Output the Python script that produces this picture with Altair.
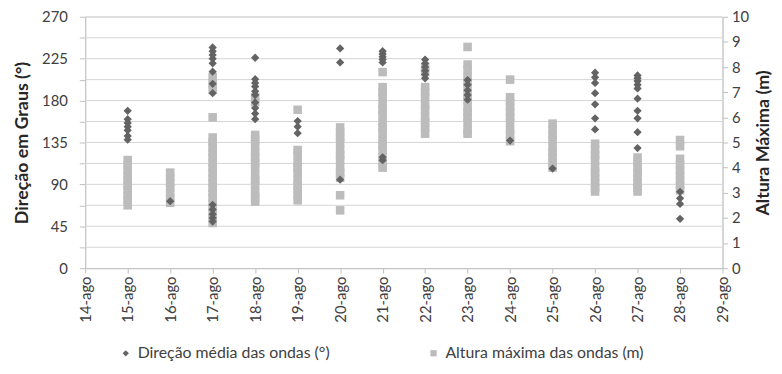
import altair as alt
import pandas as pd

dates = ["14-ago", "15-ago", "16-ago", "17-ago", "18-ago", "19-ago", "20-ago", "21-ago",
         "22-ago", "23-ago", "24-ago", "25-ago", "26-ago", "27-ago", "28-ago", "29-ago"]

S_DIR = "Direção média das ondas (°)"
S_ALT = "Altura máxima das ondas (m)"

# Mean wave direction (degrees)
direcao = {
    "15-ago": [169, 160, 156, 152, 148, 142, 138],
    "16-ago": [72],
    "17-ago": [237, 233, 229, 225, 220, 211, 198, 188, 68, 63, 58, 54, 50],
    "18-ago": [226, 203, 199, 195, 190, 186, 178, 172, 166, 160],
    "19-ago": [158, 152, 145],
    "20-ago": [236, 221, 95],
    "21-ago": [233, 230, 227, 224, 221, 119, 116],
    "22-ago": [224, 220, 216, 212, 208, 204],
    "23-ago": [202, 197, 191, 186, 181],
    "24-ago": [137],
    "25-ago": [107],
    "26-ago": [210, 205, 199, 188, 176, 161, 149],
    "27-ago": [207, 204, 201, 197, 193, 182, 169, 161, 146, 129],
    "28-ago": [82, 75, 69, 53],
}

# Maximum wave height (m)
altura = {
    "15-ago": [4.3, 4.1, 3.9, 3.7, 3.5, 3.3, 3.1, 2.9, 2.7, 2.5],
    "16-ago": [3.8, 3.6, 3.4, 3.2, 3.0, 2.8, 2.6],
    "17-ago": [7.6, 7.35, 7.1, 6.0, 5.2, 5.0, 4.8, 4.6, 4.4, 4.2, 4.0, 3.8, 3.6, 3.4,
               3.2, 3.0, 2.8, 2.6, 2.4, 2.2, 2.0, 1.8],
    "18-ago": [6.8, 6.6, 5.3, 5.1, 4.9, 4.6, 4.4, 4.2, 4.0, 3.7, 3.5, 3.3, 3.0, 2.8, 2.65],
    "19-ago": [6.3, 4.7, 4.5, 4.2, 4.0, 3.8, 3.5, 3.3, 3.1, 2.9, 2.7],
    "20-ago": [5.6, 5.4, 5.2, 5.0, 4.7, 4.5, 4.3, 4.0, 3.8, 3.6, 2.9, 2.3],
    "21-ago": [7.8, 7.2, 7.0, 6.8, 6.5, 6.3, 6.1, 5.8, 5.6, 5.4, 5.1, 4.9, 4.7, 4.4, 4.2, 4.0],
    "22-ago": [8.0, 7.8, 7.2, 7.0, 6.8, 6.5, 6.3, 6.0, 5.8, 5.6, 5.35],
    "23-ago": [8.8, 8.1, 7.9, 7.6, 7.4, 7.2, 6.9, 6.7, 6.4, 6.2, 6.0, 5.8, 5.5, 5.35],
    "24-ago": [7.5, 6.8, 6.6, 6.4, 6.2, 6.0, 5.8, 5.5, 5.3, 5.05],
    "25-ago": [5.75, 5.5, 5.3, 5.1, 4.8, 4.6, 4.4, 4.2, 4.0],
    "26-ago": [4.95, 4.7, 4.5, 4.3, 4.0, 3.8, 3.6, 3.4, 3.2, 3.05],
    "27-ago": [4.4, 4.2, 4.0, 3.8, 3.6, 3.4, 3.2, 3.05],
    "28-ago": [5.1, 4.85, 4.35, 4.1, 3.9, 3.7, 3.5, 3.3, 3.1],
}

dir_ticks = [0, 22.5, 45, 67.5, 90, 112.5, 135, 157.5, 180, 202.5, 225, 247.5, 270]
alt_ticks = [0, 1, 2, 3, 4, 5, 6, 7, 8, 9, 10]

df_dir = pd.DataFrame([{"data": d, "valor": v, "serie": S_DIR}
                       for d, vs in direcao.items() for v in vs])
df_alt = pd.DataFrame([{"data": d, "valor": v, "serie": S_ALT}
                       for d, vs in altura.items() for v in vs])
df_grid = pd.DataFrame({"valor": dir_ticks[1:]})

FONT = "Lato"
TXT = "#404040"
AXC = "#bfbfbf"

x_enc = alt.X(
    "data:O",
    scale=alt.Scale(type="point", domain=dates, padding=0),
    axis=alt.Axis(title=None, labelAngle=270, labelFont=FONT, labelFontSize=15,
                  labelColor=TXT, domainColor=AXC, tickColor=AXC, tickSize=5,
                  labelPadding=3, grid=False),
)

legend = alt.Legend(title=None, orient="none", legendX=33, legendY=332,
                    direction="horizontal", labelFont=FONT, labelFontSize=16,
                    labelColor=TXT, labelLimit=0, symbolSize=40, columnPadding=96,
                    symbolStrokeWidth=0)

color_enc = alt.Color("serie:N", scale=alt.Scale(domain=[S_DIR, S_ALT],
                                                  range=["#636363", "#bcbcbc"]),
                      legend=legend)
shape_enc = alt.Shape("serie:N", scale=alt.Scale(domain=[S_DIR, S_ALT],
                                                  range=["diamond", "square"]),
                      legend=legend)

grid = alt.Chart(df_grid).mark_rule(color="#d4d4d4", strokeWidth=1).encode(
    y=alt.Y("valor:Q", scale=alt.Scale(domain=[0, 270], nice=False), axis=None),
)

squares = alt.Chart(df_alt).mark_point(filled=True, size=75, opacity=1).encode(
    x=x_enc,
    y=alt.Y("valor:Q", scale=alt.Scale(domain=[0, 10], nice=False),
            axis=alt.Axis(orient="right", values=alt_ticks, title="Altura Máxima (m)",
                          titleAngle=270, titleBaseline="top", titleFont=FONT,
                          titleFontSize=18, titleFontWeight="bold", titleColor="#262626",
                          titlePadding=6,
                          labelFont=FONT, labelFontSize=15, labelColor=TXT,
                          domainColor=AXC, tickColor=AXC, tickSize=5, labelPadding=4,
                          grid=False)),
    color=color_enc,
    shape=shape_enc,
)

diamonds = alt.Chart(df_dir).mark_point(filled=True, size=70, opacity=1).encode(
    x=x_enc,
    y=alt.Y("valor:Q", scale=alt.Scale(domain=[0, 270], nice=False),
            axis=alt.Axis(orient="left", values=dir_ticks,
                          labelExpr="datum.value % 45 == 0 ? datum.label : ''",
                          title="Direção em Graus (°)", titleFont=FONT, titleFontSize=18,
                          titleFontWeight="bold", titleColor="#262626", titlePadding=10,
                          labelFont=FONT, labelFontSize=15, labelColor=TXT,
                          domainColor=AXC, tickColor=AXC, tickSize=6, labelPadding=12,
                          grid=False)),
    color=color_enc,
    shape=shape_enc,
)

chart = alt.layer(grid, squares, diamonds).resolve_scale(
    y="independent"
).properties(
    width=644, height=254,
    autosize=alt.AutoSizeParams(type="none"),
    padding={"left": 78, "top": 7, "right": 52, "bottom": 99},
).configure_view(strokeWidth=0).configure(background="white")

chart.save("out.html", embed_options={"renderer": "svg", "actions": False})
